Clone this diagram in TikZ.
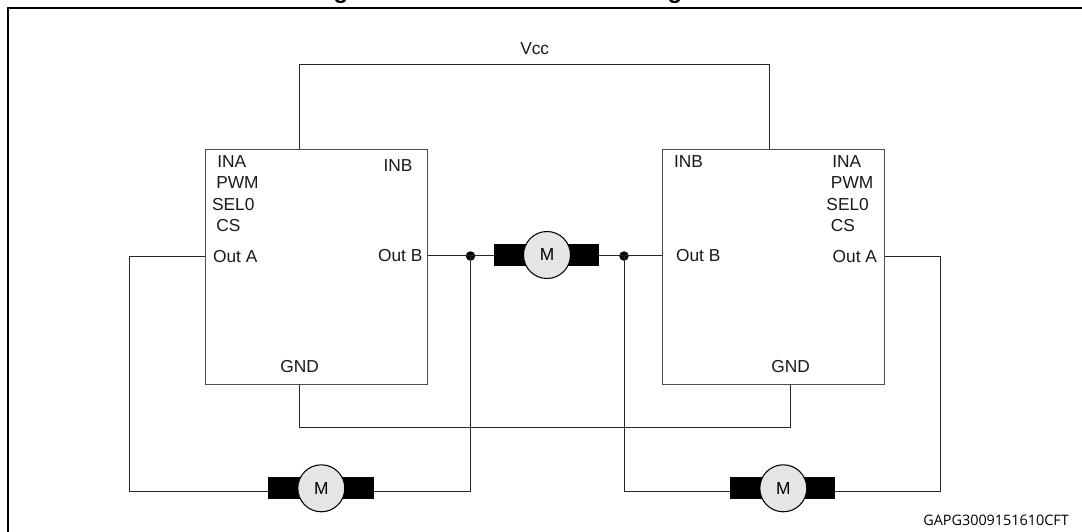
\documentclass[tikz,border=0pt]{standalone}
\usepackage{fontspec}
\setmainfont{Liberation Sans}
\newfontfamily\codefont{Open Sans}
\tikzset{
  x=0.75pt,y=-0.75pt,
  wire/.style={draw=black!85,line width=0.75pt},
  frameline/.style={draw=black,line width=1.5pt},
  ic/.style={draw=black!70,line width=0.8pt,fill=white,rectangle,inner sep=0pt,outer sep=0pt,minimum width=222*0.75pt,minimum height=235*0.75pt},
  lab/.style={font=\fontsize{13}{15}\selectfont,inner sep=0pt,anchor=west,text=black!90},
  labc/.style={font=\fontsize{13}{15}\selectfont,inner sep=0pt,anchor=center,text=black!90},
  stator/.style={fill=black,draw=none,rectangle,inner sep=0pt,outer sep=0pt,minimum width=105.5*0.75pt,minimum height=22*0.75pt},
  rotor/.style={circle,draw=black,line width=0.8pt,fill=black!10,inner sep=0pt,outer sep=0pt,minimum size=47*0.75pt,font=\fontsize{13}{15}\selectfont},
  junction/.style={circle,fill=black,draw=none,inner sep=0pt,outer sep=0pt,minimum size=9.5*0.75pt},
  titlebit/.style={font=\bfseries\fontsize{18}{20}\selectfont,inner sep=0pt,anchor=base}
}
\begin{document}
\begin{tikzpicture}
\useasboundingbox (0,0) rectangle (1082,532);
% clipped title line: only the descenders remain visible
\begin{scope}
  \clip (0,0) rectangle (1082,7);
  \node[titlebit] (t1) at (341,-2) {g};
  \node[titlebit] (t2) at (675,-2) {g};
\end{scope}
\draw[frameline] (1082,7.5) -- (7.5,7.5) -- (7.5,532);

% named wire corners
\coordinate (vl) at (299.6,64);
\coordinate (vr) at (769.2,64);
\coordinate (gl) at (299.6,427.3);
\coordinate (gr) at (790.7,427.3);
\coordinate (al) at (129,256.3);
\coordinate (alb) at (129,491.3);
\coordinate (ar) at (940.3,256.3);
\coordinate (arb) at (940.3,491.3);
\coordinate (jlb) at (470.5,491.3);
\coordinate (jrb) at (624,491.3);
\coordinate (lvt) at (299.6,149.7);
\coordinate (rvt) at (769.2,149.7);
\coordinate (lgb) at (299.6,384.5);
\coordinate (rgb) at (790.7,384.5);
\coordinate (lao) at (205.6,256.3);
\coordinate (lbo) at (428,255);
\coordinate (rbo) at (662.7,255);
\coordinate (rao) at (884.7,256.3);

% junctions
\node[junction] (jl) at (470.5,256) {};
\node[junction] (jr) at (624,256) {};

% wires
\draw[wire] (lvt) -- (vl) -- (vr) -- (rvt);
\draw[wire] (lgb) -- (gl) -- (gr) -- (rgb);
\draw[wire] (lao) -- (al) -- (alb) -- (jlb) -- (jl.center);
\draw[wire] (rao) -- (ar) -- (arb) -- (jrb) -- (jr.center);
\draw[wire] (lbo) -- (rbo);

% driver blocks
\node[ic] (lbox) at (316.8,267.2) {};
\node[ic] (rbox) at (773.7,267.2) {};

% motors
\node[stator] (s1) at (546.7,255.2) {};
\node[rotor] (m1) at (547,255) {M};
\node[stator] (s2) at (321.1,488.3) {};
\node[rotor] (m2) at (321.3,488.3) {M};
\node[stator] (s3) at (782.7,488.3) {};
\node[rotor] (m3) at (783.3,488.3) {M};

% labels
\node[lab] (vcc) at (520,49) {Vcc};
\node[lab] (a1) at (217,162) {INA};
\node[lab] (a2) at (216,183) {PWM};
\node[lab] (a3) at (211.8,204.7) {SEL0};
\node[lab] (a4) at (216,226) {CS};
\node[lab] (a5) at (212.8,256.3) {Out A};
\node[lab] (a6) at (383.3,165.7) {INB};
\node[lab] (a7) at (377.8,256) {Out B};
\node[labc] (a8) at (299.6,367) {GND};
\node[lab] (b1) at (673.8,162) {INB};
\node[lab] (b2) at (832,162) {INA};
\node[lab] (b3) at (830.7,183) {PWM};
\node[lab] (b4) at (826.2,204.7) {SEL0};
\node[lab] (b5) at (830.7,226) {CS};
\node[lab] (b6) at (832.4,256.3) {Out A};
\node[lab] (b7) at (675.8,256) {Out B};
\node[labc] (b8) at (790.7,367) {GND};
\node[inner sep=0pt,anchor=west,font=\codefont\fontsize{10.8}{12}\selectfont] (code) at (923,520) {GAPG3009151610CFT};
\end{tikzpicture}
\end{document}
